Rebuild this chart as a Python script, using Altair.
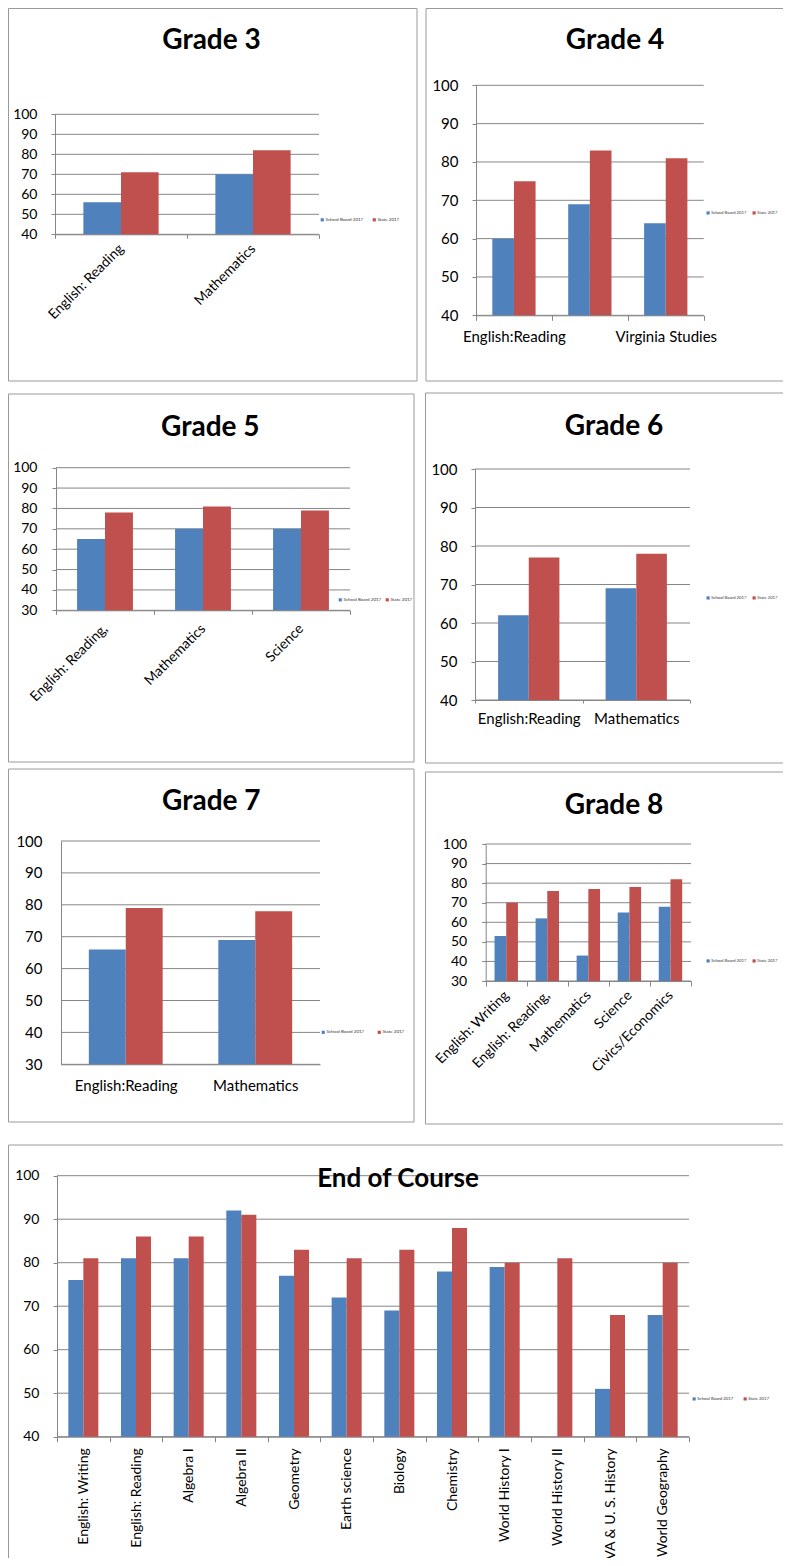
import altair as alt
import pandas as pd

SERIES = ["School Board 2017", "State 2017"]
COLORS = ["#4F81BD", "#C0504D"]

ticks_40 = [40, 50, 60, 70, 80, 90, 100]
ticks_30 = [30, 40, 50, 60, 70, 80, 90, 100]

g3_title = "Grade 3"
g3_categories = ["English:  Reading", "Mathematics"]
g3_school = [56, 70]
g3_state = [71, 82]

g4_title = "Grade 4"
g4_categories = ["English:Reading", "Mathematics", "Virginia Studies"]
g4_school = [60, 69, 64]
g4_state = [75, 83, 81]

g5_title = "Grade 5"
g5_categories = ["English:  Reading,", "Mathematics", "Science"]
g5_school = [65, 70, 70]
g5_state = [78, 81, 79]

g6_title = "Grade 6"
g6_categories = ["English:Reading", "Mathematics"]
g6_school = [62, 69]
g6_state = [77, 78]

g7_title = "Grade 7"
g7_categories = ["English:Reading", "Mathematics"]
g7_school = [66, 69]
g7_state = [79, 78]

g8_title = "Grade 8"
g8_categories = ["English:  Writing", "English:  Reading,", "Mathematics", "Science", "Civics/Economics"]
g8_school = [53, 62, 43, 65, 68]
g8_state = [70, 76, 77, 78, 82]

eoc_title = "End of Course"
eoc_categories = ["English:  Writing", "English:  Reading", "Algebra I", "Algebra II", "Geometry",
                  "Earth science", "Biology", "Chemistry", "World History I", "World History II",
                  "VA & U. S. History", "World Geography"]
eoc_school = [76, 81, 81, 92, 77, 72, 69, 78, 79, 40, 51, 68]
eoc_state = [81, 86, 86, 91, 83, 81, 83, 88, 80, 81, 68, 80]

FONT = "Lato"
GRID = "#868686"
BOX = "#9a9a9a"
TOTAL_W = 775
TOTAL_H = 1550


def panel(origin, title, cats, school, state, yticks, edges, plot, title_pos, title_size,
          xlab, ylab_size, ytick_size, ylab_pad, legend_pos, legend_gap, legend_size=4.5):
    ox, oy = origin
    L, R, top, bottom = plot
    L, R, top, bottom = L + ox, R + ox, top + oy, bottom + oy
    lo = yticks[0]
    rows = []
    for c, a, b in zip(cats, school, state):
        rows.append({"cat": c, "series": SERIES[0], "val": a})
        rows.append({"cat": c, "series": SERIES[1], "val": b})
    df = pd.DataFrame(rows)

    yscale = alt.Scale(domain=[lo, yticks[-1]], range=[bottom, top], nice=False, zero=False)

    xkw = dict(title=None, orient="bottom", offset=bottom - TOTAL_H, labelAngle=xlab["angle"],
               labelAlign=xlab["align"], labelBaseline=xlab["baseline"], labelPadding=xlab["pad"],
               labelFontSize=xlab["size"], labelFont=FONT, labelColor="black", labelOverlap=False,
               labelLimit=300, domainColor=GRID, tickColor=GRID,
               tickBand="extent", grid=False)
    if xlab["tick"] > 0:
        xkw["tickSize"] = xlab["tick"]
    else:
        xkw["ticks"] = False
    if "hide" in xlab:
        xkw["labelExpr"] = "datum.value == '%s' ? '' : datum.label" % xlab["hide"]
    xaxis = alt.Axis(**xkw)

    ykw = dict(title=None, orient="left", offset=-L, values=yticks, grid=False,
               labelFontSize=ylab_size, labelFont=FONT, labelColor="black",
               labelPadding=ylab_pad, domainColor=GRID, tickColor=GRID)
    if ytick_size > 0:
        ykw["tickSize"] = ytick_size
    else:
        ykw["ticks"] = False
    yaxis = alt.Axis(**ykw)

    legend = alt.Legend(orient="none", legendX=legend_pos[0] + ox, legendY=legend_pos[1] + oy,
                        direction="horizontal", title=None, symbolType="square", symbolSize=10,
                        symbolStrokeWidth=0, labelFontSize=legend_size, labelFont=FONT,
                        labelColor="#333333", labelOffset=1, columnPadding=legend_gap, padding=0)

    grid = alt.Chart(pd.DataFrame({"val": yticks})).mark_rule(color=GRID, strokeWidth=1).encode(
        y=alt.Y("val:Q", scale=yscale, axis=yaxis, title=None),
        x=alt.value(L), x2=alt.value(R))

    bars = alt.Chart(df).mark_bar().encode(
        x=alt.X("cat:N", sort=cats, title=None,
                scale=alt.Scale(range=[L, R], paddingInner=0, paddingOuter=0), axis=xaxis),
        xOffset=alt.XOffset("series:N", sort=SERIES,
                            scale=alt.Scale(paddingInner=0, paddingOuter=0.754)),
        y=alt.Y("val:Q", scale=yscale, axis=yaxis, title=None),
        y2=alt.Y2Datum(lo),
        color=alt.Color("series:N", sort=SERIES,
                        scale=alt.Scale(domain=SERIES, range=COLORS), legend=legend),
    )

    ttl = alt.Chart(pd.DataFrame({"t": [title]})).mark_text(
        font=FONT, fontWeight="bold", fontSize=title_size, align="center",
        baseline="alphabetic", color="black").encode(
        text="t:N", x=alt.value(title_pos[0] + ox), y=alt.value(title_pos[1] + oy))

    layers = [grid, bars, ttl]
    one = pd.DataFrame({"k": [0]})
    for (x1, y1, x2, y2) in edges:
        layers.append(alt.Chart(one).mark_rule(color=BOX, strokeWidth=1).encode(
            x=alt.value(x1 + ox), x2=alt.value(x2 + ox), y=alt.value(y1 + oy), y2=alt.value(y2 + oy)))
    return alt.layer(*layers)


ang45 = dict(angle=-45, align="right", baseline="middle", size=14)
hor = dict(angle=0, align="center", baseline="top", size=15)

p3 = panel((0, 0), g3_title, g3_categories, g3_school, g3_state, ticks_40,
           [(0.5, 0.5, 409, 0.5), (0.5, 0.5, 0.5, 373), (409, 0.5, 409, 373), (0.5, 373, 409, 373)],
           (47, 311, 106.3, 226.3), (203.5, 41.3), 28,
           dict(ang45, pad=8, tick=4), 14, 4, 14, (312, 209.5), 8)

p4 = panel((417, 0), g4_title, g4_categories, g4_school, g4_state, ticks_40,
           [(1, 0.5, 358, 0.5), (1, 0.5, 1, 373), (1, 373, 358, 373)],
           (51, 278.7, 77.3, 307.3), (190, 41.3), 28,
           dict(hor, pad=9, tick=5, hide="Mathematics"), 15, 4, 14, (281, 202.5), 5, 4.2)

p5 = panel((0, 380), g5_title, g5_categories, g5_school, g5_state, ticks_30,
           [(0.5, 6, 406, 6), (0.5, 6, 0.5, 374), (406, 6, 406, 374), (0.5, 374, 406, 374)],
           (48, 342, 79.7, 222.3), (202.3, 47.7), 28,
           dict(ang45, pad=12, tick=4), 14, 4, 15, (330, 209.5), 3)

p6 = panel((417, 380), g6_title, g6_categories, g6_school, g6_state, ticks_40,
           [(0.5, 5, 358, 5), (0.5, 5, 0.5, 375), (0.5, 375, 358, 375)],
           (50, 265, 81, 312), (189, 47), 28,
           dict(hor, pad=8, tick=3), 15, 4, 14, (281, 207.5), 5, 4.2)

p7 = panel((0, 758), g7_title, g7_categories, g7_school, g7_state, ticks_30,
           [(0.5, 3, 406, 3), (0.5, 3, 0.5, 356), (406, 3, 406, 356), (0.5, 356, 406, 356)],
           (53, 312, 75, 298.3), (203.3, 44), 28,
           dict(hor, pad=14, tick=0), 15, 0, 19, (313, 264), 12)

p8 = panel((417, 758), g8_title, g8_categories, g8_school, g8_state, ticks_30,
           [(0.5, 6, 358, 6), (0.5, 6, 0.5, 358), (0.5, 358, 358, 358)],
           (60.7, 266, 78, 215), (189, 48.3), 28,
           dict(ang45, pad=7, tick=5), 14, 4, 15, (281, 192.5), 5, 4.2)

peoc = panel((0, 1130), eoc_title, eoc_categories, eoc_school, eoc_state, ticks_40,
             [(0.5, 7, 775, 7), (0.5, 7, 0.5, 420)],
             (49, 681, 37.7, 298.7), (390, 48.7), 26,
             dict(angle=-90, align="right", baseline="middle", size=14, pad=6, tick=5),
             14, 4, 14, (684, 258.5), 9, 4.3)

chart = alt.layer(p3, p4, p5, p6, p7, p8, peoc).resolve_scale(
    x="independent", y="independent", xOffset="independent", color="independent"
).resolve_axis(x="independent", y="independent").resolve_legend(color="independent").properties(
    width=TOTAL_W, height=TOTAL_H, padding=0, background="white",
    autosize=alt.AutoSizeParams(type="none")
).configure_view(strokeWidth=0)

chart.save("out.html", embed_options={"renderer": "svg", "actions": False})
